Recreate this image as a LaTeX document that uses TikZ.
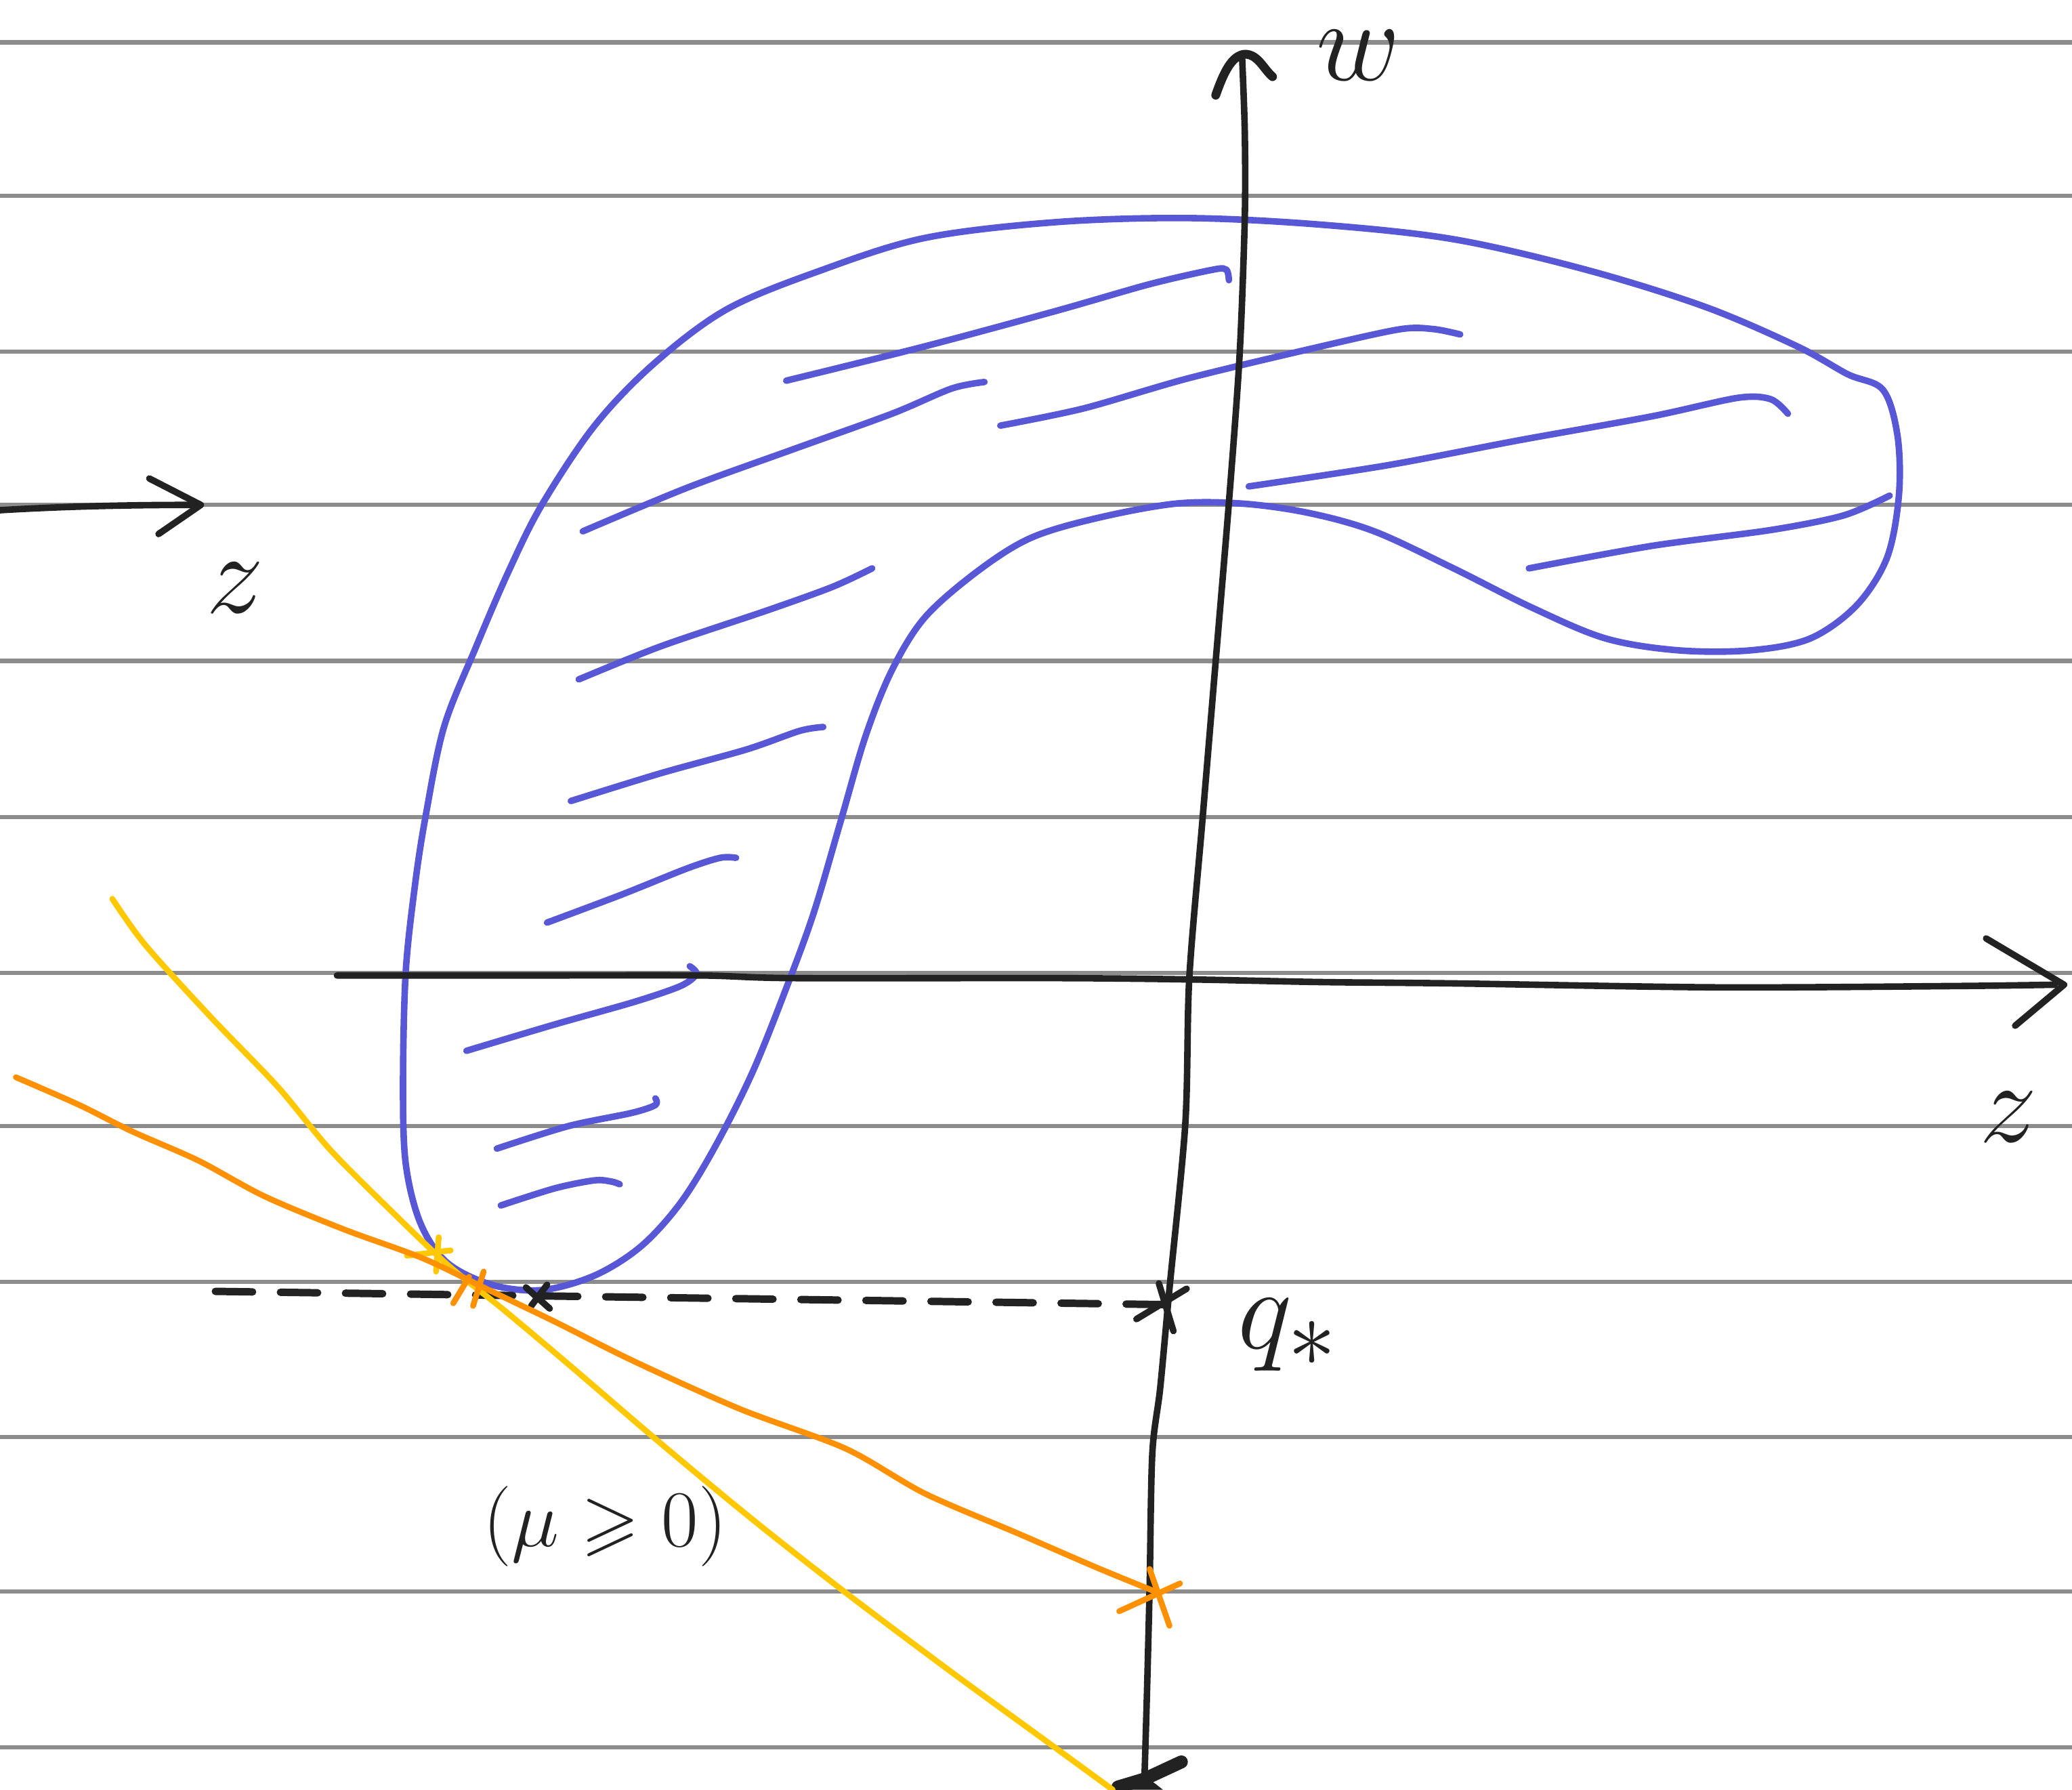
\documentclass[tikz,border=0pt]{standalone}
\usepackage{amssymb}
\definecolor{rulegray}{RGB}{140,140,140}
\definecolor{sketchblue}{RGB}{88,88,214}
\definecolor{inkblack}{RGB}{34,34,34}
\definecolor{sketchyellow}{RGB}{255,200,0}
\definecolor{sketchorange}{RGB}{255,145,0}
\tikzset{
  ruleline/.style={draw=rulegray,line width=0.9pt},
  blueline/.style={draw=sketchblue,line width=1.4pt,line cap=round,line join=round},
  inkline/.style={draw=inkblack,line width=1.4pt,line cap=round,line join=round},
  yellowline/.style={draw=sketchyellow,line width=1.25pt,line cap=round,line join=round},
  orangeline/.style={draw=sketchorange,line width=1.25pt,line cap=round,line join=round},
  lbl/.style={text=inkblack,inner sep=0pt,font=\fontsize{26}{30}\selectfont},
  lblq/.style={text=inkblack,inner sep=0pt,font=\fontsize{30}{34}\selectfont},
  lblmu/.style={text=inkblack,inner sep=0pt,font=\fontsize{16}{20}\selectfont}
}
\begin{document}
\begin{tikzpicture}[x=0.01cm,y=-0.01cm]
\useasboundingbox (0,0) rectangle (1568,1354);
\fill[white] (0,0) rectangle (1568,1354);
% ruled paper
\foreach \yy in {32,148,266,382,500,618,736,852,970,1087,1204,1322}
  \draw[ruleline] (0,\yy) -- (1568,\yy);

% blue region outline
\draw[blueline] plot[smooth cycle,tension=0.55] coordinates {
 (410,976) (372,972) (338,955) (318,925) (307,880) (305,820) (307,736)
 (314,670) (322,618) (336,550) (360,490) (385,432) (410,382) (450,322)
 (495,275) (550,234) (620,205) (700,180) (800,168) (900,165) (1000,170)
 (1100,181) (1200,204) (1290,232) (1360,262) (1398,283) (1425,295)
 (1436,330) (1437,375) (1428,422) (1405,458) (1370,483) (1325,492)
 (1270,492) (1215,483) (1160,460) (1100,430) (1040,402) (990,388)
 (940,381) (890,381) (830,392) (780,407) (740,432) (700,467) (675,507)
 (655,557) (636,622) (616,690) (596,745) (570,810) (542,866) (515,910)
 (485,943) (450,965)};

% hatch strokes
\draw[blueline] plot[smooth] coordinates {(595,288) (700,262) (800,235) (870,215) (918,204) (928,204) (930,212)};
\draw[blueline] plot[smooth] coordinates {(757,322) (820,309) (900,286) (1000,262) (1060,249) (1085,249) (1105,253)};
\draw[blueline] plot[smooth] coordinates {(945,368) (1050,352) (1150,333) (1250,315) (1315,301) (1340,302) (1353,313)};
\draw[blueline] plot[smooth] coordinates {(1157,430) (1250,413) (1340,401) (1395,390) (1430,375)};
\draw[blueline] plot[smooth] coordinates {(441,402) (520,369) (600,340) (675,313) (720,294) (745,289)};
\draw[blueline] plot[smooth] coordinates {(438,514) (500,489) (580,462) (630,444) (660,430)};
\draw[blueline] plot[smooth] coordinates {(432,606) (500,585) (565,567) (605,553) (623,550)};
\draw[blueline] plot[smooth] coordinates {(414,698) (470,677) (520,657) (545,649) (557,649)};
\draw[blueline] plot[smooth] coordinates {(353,795) (420,775) (480,758) (515,746) (527,737) (522,731)};
\draw[blueline] plot[smooth] coordinates {(376,869) (430,852) (478,842) (496,836) (496,831)};
\draw[blueline] plot[smooth] coordinates {(379,912) (420,899) (450,893) (463,894) (469,896)};

% small z arrow, top left
\coordinate (zsmallstart) at (0,386);
\coordinate (zsmalltip) at (152,382);
\draw[inkline] (zsmallstart) .. controls (50,383) and (100,382) .. (145,382);
\draw[inkline] (113,362) -- (zsmalltip) -- (120,404);
\node[lbl] (zlabsmall) at (178,445) {$z$};

% z axis
\coordinate (zstart) at (255,738);
\coordinate (ztip) at (1562,745);
\draw[inkline] plot[smooth] coordinates {(zstart) (400,738) (530,738) (600,740) (800,740) (900,741) (1000,743) (1100,744) (1300,747) (1480,746) (1555,745)};
\draw[inkline] (1503,710) -- (ztip) -- (1525,776);
\node[lbl] (zlab) at (1520,845) {$z$};

% w axis
\coordinate (wtop) at (940,44);
\coordinate (wbottom) at (866,1348);
\draw[inkline] plot[smooth] coordinates {(wtop) (942,100) (942,165) (938,270) (930,380) (920,500) (910,620) (900,740) (897,850) (885,975) (878,1050) (872,1100) (870,1200) (868,1280) (wbottom)};
\draw[inkline,line width=1.9pt] (920,72) .. controls (926,55) and (932,42) .. (942,41) .. controls (952,41) and (956,52) .. (963,58);
\node[lbl] (wlab) at (1028,42) {$w$};
\draw[inkline,line width=2.8pt] (846,1352) -- (866,1346) -- (894,1333);
\fill[inkblack] (850,1354) -- (866,1343) -- (880,1354) -- cycle;

% dashed level line to q_*
\coordinate (dashstart) at (163,977);
\coordinate (qstar) at (880,987);
\draw[inkline,line width=1.6pt,dash pattern=on 8pt off 6pt] (dashstart) -- (qstar);
\draw[inkline] (860,998) -- (898,975);
\draw[inkline] (877,971) -- (888,1007);
\draw[inkline] (398,974) -- (416,990);
\draw[inkline] (414,972) -- (402,988);
\node[lblq] (qlab) at (975,1010) {$q_*$};

% yellow supporting line
\draw[yellowline] plot[smooth] coordinates {(85,680) (110,715) (160,770) (210,822) (250,870) (300,920) (340,958) (380,990) (430,1032) (500,1092) (570,1150) (640,1205) (720,1265) (790,1316) (842,1354)};
\draw[yellowline] (308,950) -- (341,946);
\draw[yellowline] (332,936) -- (330,962);

% orange supporting line
\coordinate (orangehit) at (874,1204);
\draw[orangeline] plot[smooth] coordinates {(12,815) (60,836) (100,856) (150,878) (200,905) (260,930) (320,952) (370,976) (420,1000) (480,1030) (560,1066) (640,1096) (700,1130) (770,1160) (830,1186) (orangehit)};
\draw[orangeline] (847,1219) -- (893,1198);
\draw[orangeline] (870,1187) -- (885,1230);
\draw[orangeline] (366,962) -- (358,988);
\draw[orangeline] (343,986) -- (355,966);

\node[lblmu] (mulab) at (458,1155) {$(\mu \geqslant 0)$};
\end{tikzpicture}
\end{document}
